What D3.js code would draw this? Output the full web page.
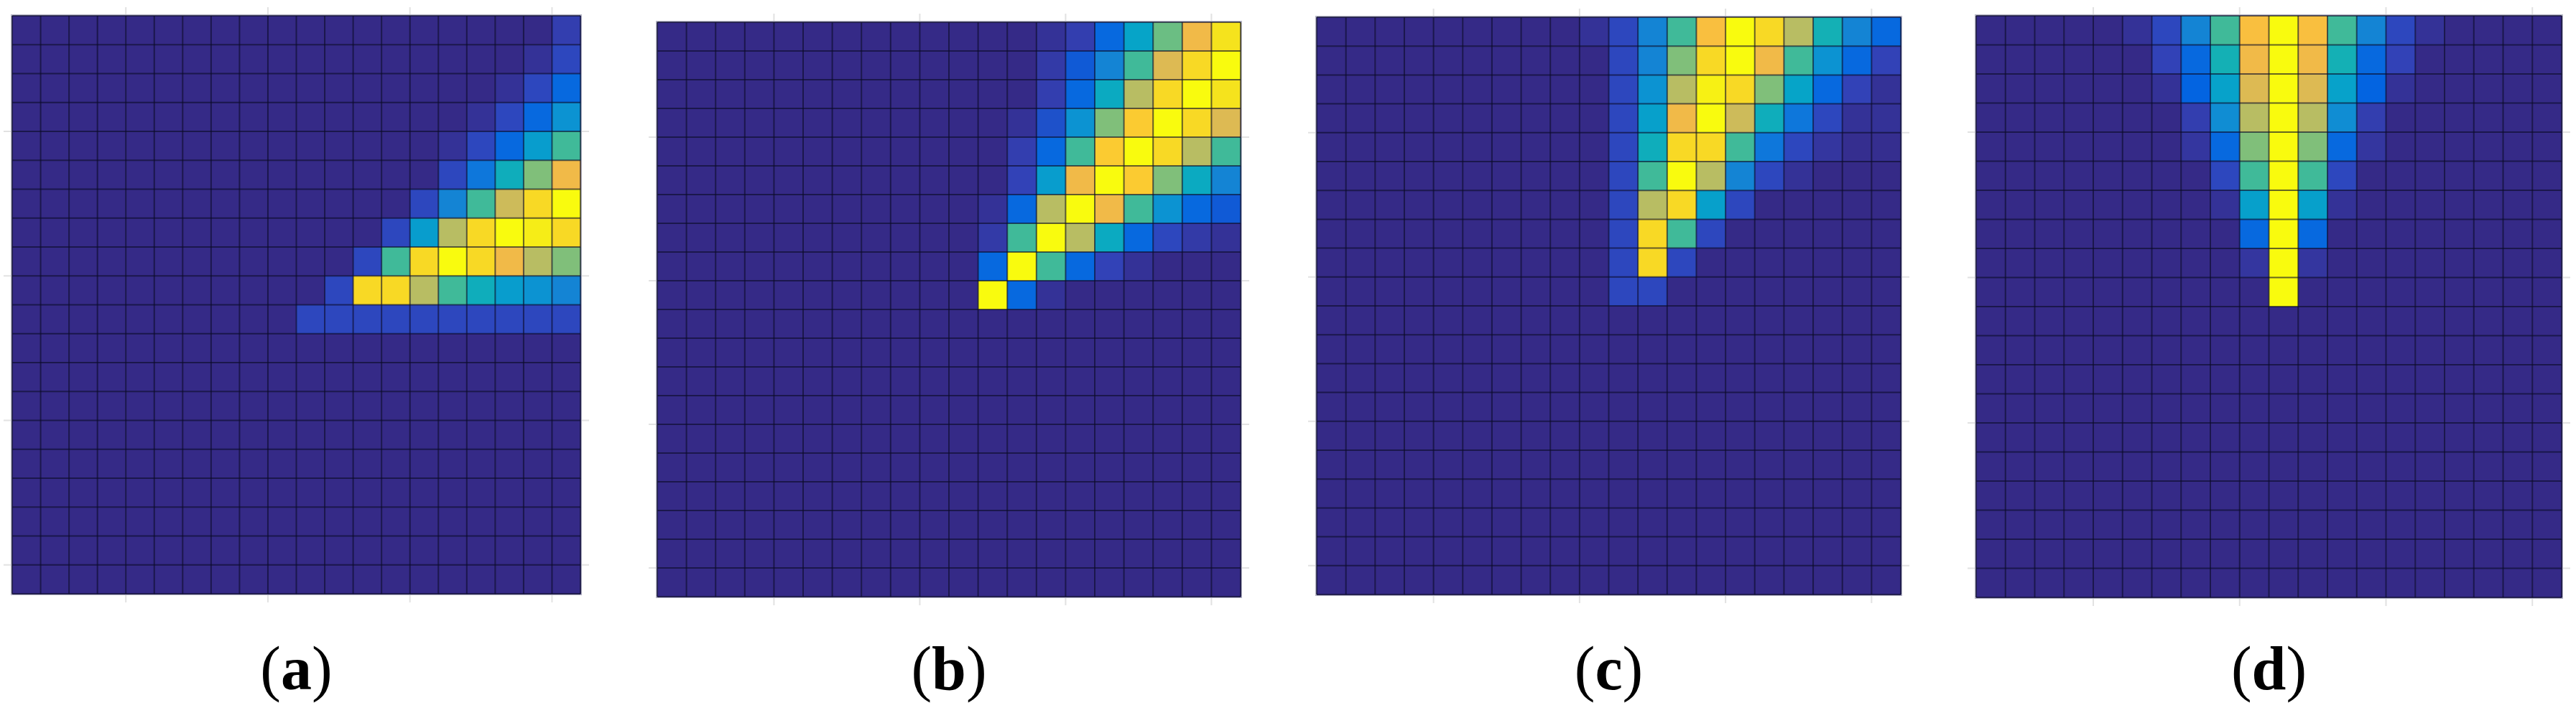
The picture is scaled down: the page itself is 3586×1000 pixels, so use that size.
<!DOCTYPE html>
<html><head><meta charset="utf-8">
<script src="https://cdn.jsdelivr.net/npm/d3@7"></script>
<style>html,body{margin:0;padding:0;background:#fff;} svg{display:block;}</style>
</head><body>
<svg id="chart" width="3586" height="1000"></svg>
<script>
// ---------------- DATA ----------------
const panelLabels = ["a", "b", "c", "d"];
const gridTicks = [5, 10, 15, 20];

// cell values, 0..100, rows top->bottom, columns left->right
const panelA = [
  [0,0,0,0,0,0,0,0,0,0,0,0,0,0,0,0,0,0,0,5],
  [0,0,0,0,0,0,0,0,0,0,0,0,0,0,0,0,0,0,2,7],
  [0,0,0,0,0,0,0,0,0,0,0,0,0,0,0,0,0,2,7,15],
  [0,0,0,0,0,0,0,0,0,0,0,0,0,0,0,0,2,7,15,30],
  [0,0,0,0,0,0,0,0,0,0,0,0,0,0,0,2,7,15,34,52],
  [0,0,0,0,0,0,0,0,0,0,0,0,0,0,0,7,20,42,61,81],
  [0,0,0,0,0,0,0,0,0,0,0,0,0,0,7,25,52,74,92,100],
  [0,0,0,0,0,0,0,0,0,0,0,0,0,7,34,70,92,100,97,92],
  [0,0,0,0,0,0,0,0,0,0,0,0,7,52,92,100,92,81,70,61],
  [0,0,0,0,0,0,0,0,0,0,0,7,92,92,70,52,42,34,30,25],
  [0,0,0,0,0,0,0,0,0,0,7,7,7,7,7,7,7,7,7,7],
  [0,0,0,0,0,0,0,0,0,0,0,0,0,0,0,0,0,0,0,0],
  [0,0,0,0,0,0,0,0,0,0,0,0,0,0,0,0,0,0,0,0],
  [0,0,0,0,0,0,0,0,0,0,0,0,0,0,0,0,0,0,0,0],
  [0,0,0,0,0,0,0,0,0,0,0,0,0,0,0,0,0,0,0,0],
  [0,0,0,0,0,0,0,0,0,0,0,0,0,0,0,0,0,0,0,0],
  [0,0,0,0,0,0,0,0,0,0,0,0,0,0,0,0,0,0,0,0],
  [0,0,0,0,0,0,0,0,0,0,0,0,0,0,0,0,0,0,0,0],
  [0,0,0,0,0,0,0,0,0,0,0,0,0,0,0,0,0,0,0,0],
  [0,0,0,0,0,0,0,0,0,0,0,0,0,0,0,0,0,0,0,0]
];
const panelB = [
  [0,0,0,0,0,0,0,0,0,0,0,0,0,2,5,15,37,58,81,95],
  [0,0,0,0,0,0,0,0,0,0,0,0,0,4,11,25,52,77,92,100],
  [0,0,0,0,0,0,0,0,0,0,0,0,0,5,15,40,70,92,100,95],
  [0,0,0,0,0,0,0,0,0,0,0,0,2,9,30,61,88,100,92,77],
  [0,0,0,0,0,0,0,0,0,0,0,0,5,15,52,88,100,92,70,52],
  [0,0,0,0,0,0,0,0,0,0,0,0,6,34,81,100,88,61,40,25],
  [0,0,0,0,0,0,0,0,0,0,0,2,15,70,100,81,52,30,15,11],
  [0,0,0,0,0,0,0,0,0,0,0,4,52,100,70,40,15,7,4,2],
  [0,0,0,0,0,0,0,0,0,0,0,15,100,52,15,6,2,0,0,0],
  [0,0,0,0,0,0,0,0,0,0,0,100,15,2,0,0,0,0,0,0],
  [0,0,0,0,0,0,0,0,0,0,0,0,0,0,0,0,0,0,0,0],
  [0,0,0,0,0,0,0,0,0,0,0,0,0,0,0,0,0,0,0,0],
  [0,0,0,0,0,0,0,0,0,0,0,0,0,0,0,0,0,0,0,0],
  [0,0,0,0,0,0,0,0,0,0,0,0,0,0,0,0,0,0,0,0],
  [0,0,0,0,0,0,0,0,0,0,0,0,0,0,0,0,0,0,0,0],
  [0,0,0,0,0,0,0,0,0,0,0,0,0,0,0,0,0,0,0,0],
  [0,0,0,0,0,0,0,0,0,0,0,0,0,0,0,0,0,0,0,0],
  [0,0,0,0,0,0,0,0,0,0,0,0,0,0,0,0,0,0,0,0],
  [0,0,0,0,0,0,0,0,0,0,0,0,0,0,0,0,0,0,0,0],
  [0,0,0,0,0,0,0,0,0,0,0,0,0,0,0,0,0,0,0,0]
];
const panelC = [
  [0,0,0,0,0,0,0,0,0,2,7,25,52,84,100,92,70,44,25,15],
  [0,0,0,0,0,0,0,0,0,0,7,25,61,92,100,81,52,30,15,6],
  [0,0,0,0,0,0,0,0,0,0,7,30,70,98,92,61,37,15,6,2],
  [0,0,0,0,0,0,0,0,0,0,7,35,81,100,74,42,20,7,2,2],
  [0,0,0,0,0,0,0,0,0,0,7,42,92,92,52,20,7,3,1,1],
  [0,0,0,0,0,0,0,0,0,0,7,52,100,70,25,7,2,0,0,0],
  [0,0,0,0,0,0,0,0,0,0,7,70,92,35,7,0,0,0,0,0],
  [0,0,0,0,0,0,0,0,0,0,7,92,52,7,0,0,0,0,0,0],
  [0,0,0,0,0,0,0,0,0,0,7,92,7,0,0,0,0,0,0,0],
  [0,0,0,0,0,0,0,0,0,0,7,7,0,0,0,0,0,0,0,0],
  [0,0,0,0,0,0,0,0,0,0,0,0,0,0,0,0,0,0,0,0],
  [0,0,0,0,0,0,0,0,0,0,0,0,0,0,0,0,0,0,0,0],
  [0,0,0,0,0,0,0,0,0,0,0,0,0,0,0,0,0,0,0,0],
  [0,0,0,0,0,0,0,0,0,0,0,0,0,0,0,0,0,0,0,0],
  [0,0,0,0,0,0,0,0,0,0,0,0,0,0,0,0,0,0,0,0],
  [0,0,0,0,0,0,0,0,0,0,0,0,0,0,0,0,0,0,0,0],
  [0,0,0,0,0,0,0,0,0,0,0,0,0,0,0,0,0,0,0,0],
  [0,0,0,0,0,0,0,0,0,0,0,0,0,0,0,0,0,0,0,0],
  [0,0,0,0,0,0,0,0,0,0,0,0,0,0,0,0,0,0,0,0],
  [0,0,0,0,0,0,0,0,0,0,0,0,0,0,0,0,0,0,0,0]
];
const panelD = [
  [0,0,0,0,0,2,7,25,52,84,100,84,52,25,7,2,0,0,0,0],
  [0,0,0,0,0,0,6,15,44,81,100,81,44,15,6,0,0,0,0,0],
  [0,0,0,0,0,0,2,13,36,77,100,77,36,13,2,0,0,0,0,0],
  [0,0,0,0,0,0,0,5,28,70,100,70,28,5,0,0,0,0,0,0],
  [0,0,0,0,0,0,0,3,15,61,100,61,15,3,0,0,0,0,0,0],
  [0,0,0,0,0,0,0,0,7,52,100,52,7,0,0,0,0,0,0,0],
  [0,0,0,0,0,0,0,0,2,35,100,35,2,0,0,0,0,0,0,0],
  [0,0,0,0,0,0,0,0,0,15,100,15,0,0,0,0,0,0,0,0],
  [0,0,0,0,0,0,0,0,0,3,100,3,0,0,0,0,0,0,0,0],
  [0,0,0,0,0,0,0,0,0,0,100,0,0,0,0,0,0,0,0,0],
  [0,0,0,0,0,0,0,0,0,0,0,0,0,0,0,0,0,0,0,0],
  [0,0,0,0,0,0,0,0,0,0,0,0,0,0,0,0,0,0,0,0],
  [0,0,0,0,0,0,0,0,0,0,0,0,0,0,0,0,0,0,0,0],
  [0,0,0,0,0,0,0,0,0,0,0,0,0,0,0,0,0,0,0,0],
  [0,0,0,0,0,0,0,0,0,0,0,0,0,0,0,0,0,0,0,0],
  [0,0,0,0,0,0,0,0,0,0,0,0,0,0,0,0,0,0,0,0],
  [0,0,0,0,0,0,0,0,0,0,0,0,0,0,0,0,0,0,0,0],
  [0,0,0,0,0,0,0,0,0,0,0,0,0,0,0,0,0,0,0,0],
  [0,0,0,0,0,0,0,0,0,0,0,0,0,0,0,0,0,0,0,0],
  [0,0,0,0,0,0,0,0,0,0,0,0,0,0,0,0,0,0,0,0]
];

// ---------------- STYLE ----------------
// parula colormap stops
const parula = [
  [0.2081,0.1663,0.5292],[0.1959,0.2645,0.7279],[0.0117,0.3875,0.8820],
  [0.0498,0.4586,0.8641],[0.0793,0.5200,0.8312],[0.0343,0.5966,0.8199],
  [0.0228,0.6535,0.7768],[0.0843,0.6928,0.7062],[0.2178,0.7250,0.6193],
  [0.3953,0.7459,0.5244],[0.5709,0.7485,0.4494],[0.7184,0.7411,0.3905],
  [0.8507,0.7299,0.3360],[0.9739,0.7314,0.2666],[0.9880,0.8066,0.1794],
  [0.9589,0.8949,0.1132],[0.9763,0.9831,0.0538]
];
const stopIdx = [0,4,8,12,16,20,24,28,32,36,40,44,48,52,56,60,63];
const color = d3.scaleLinear()
  .domain(stopIdx.map(i => i / 63 * 100))
  .range(parula.map(c => d3.rgb(c[0]*255, c[1]*255, c[2]*255)))
  .interpolate(d3.interpolateRgb)
  .clamp(true);

const boxes = [
  [17, 808, 22, 827],
  [915, 1727, 31, 831],
  [1833, 2646, 24, 828],
  [2751, 3566, 22, 832]
];

const svg = d3.select("#chart");
const panels = [panelA, panelB, panelC, panelD];

panels.forEach((m, i) => {
  const [x0, x1, y0, y1] = boxes[i];
  const x = d3.scaleLinear().domain([1, 21]).range([x0, x1]);
  const y = d3.scaleLinear().domain([1, 21]).range([y0, y1]);
  const g = svg.append("g");

  // faint axis grid/tick lines (mostly hidden behind the cells)
  g.selectAll("line.vt").data(gridTicks).join("line")
    .attr("x1", d => x(d)).attr("x2", d => x(d))
    .attr("y1", y0 - 12).attr("y2", y1 + 12)
    .attr("stroke", "#e2e2e2").attr("stroke-width", 2);
  g.selectAll("line.ht").data(gridTicks).join("line")
    .attr("y1", d => y(d)).attr("y2", d => y(d))
    .attr("x1", x0 - 12).attr("x2", x1 + 12)
    .attr("stroke", "#e2e2e2").attr("stroke-width", 2);

  // outer halo
  g.append("rect")
    .attr("x", x0 - 1).attr("y", y0 - 1)
    .attr("width", x1 - x0 + 2).attr("height", y1 - y0 + 2)
    .attr("fill", "none").attr("stroke", "#b4b4c4").attr("stroke-width", 2);

  const cells = [];
  m.forEach((row, r) => row.forEach((v, c) => cells.push({ r, c, v })));
  g.selectAll("rect.cell").data(cells).join("rect")
    .attr("class", "cell")
    .attr("x", d => x(d.c + 1)).attr("y", d => y(d.r + 1))
    .attr("width", d => x(d.c + 2) - x(d.c + 1) + 0.6)
    .attr("height", d => y(d.r + 2) - y(d.r + 1) + 0.6)
    .attr("fill", d => color(d.v));

  // cell edges
  const edges = d3.range(1, 22);
  g.selectAll("line.ev").data(edges).join("line")
    .attr("x1", d => x(d)).attr("x2", d => x(d))
    .attr("y1", y0).attr("y2", y1)
    .attr("stroke", "#0c0c28").attr("stroke-opacity", 0.62).attr("stroke-width", 2);
  g.selectAll("line.eh").data(edges).join("line")
    .attr("y1", d => y(d)).attr("y2", d => y(d))
    .attr("x1", x0).attr("x2", x1)
    .attr("stroke", "#0c0c28").attr("stroke-opacity", 0.62).attr("stroke-width", 2);

  // label
  const t = svg.append("text")
    .attr("x", (x0 + x1) / 2).attr("y", 960)
    .attr("text-anchor", "middle")
    .attr("font-family", "'Liberation Serif', 'DejaVu Serif', serif")
    .attr("font-size", 86).attr("fill", "#000");
  t.append("tspan").text("(");
  t.append("tspan").attr("font-weight", "bold").text(panelLabels[i]);
  t.append("tspan").text(")");
});
</script>
</body></html>
